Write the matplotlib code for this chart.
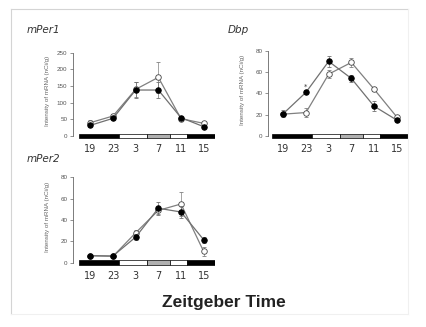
import numpy as np
import matplotlib.pyplot as plt
from matplotlib.lines import Line2D

# Sampling times (plotted as continuous hours), labels shown as ZT
zt = [19, 23, 27, 31, 35, 39]
zt_labels = ['19', '23', '3', '7', '11', '15']

# mPer1
per1_open = [40, 60, 140, 176, 52, 38]
per1_open_err = [9, 5, 23, 47, 5, 5]
per1_fill = [32, 53, 138, 138, 55, 28]
per1_fill_err = [5, 5, 23, 25, 5, 5]

# Dbp
dbp_open = [20.5, 22, 58, 69, 44, 18]
dbp_open_err = [2, 4, 4, 4, 2, 2]
dbp_fill = [21, 41, 70, 54, 28, 15]
dbp_fill_err = [3, 2, 5, 3, 5, 2]

# mPer2
per2_open = [6.5, 6, 28, 49, 55, 10.5]
per2_open_err = [1, 1, 3, 3, 11, 4]
per2_fill = [6.6, 6.3, 24, 51, 47.5, 21.5]
per2_fill_err = [1, 1, 3, 6, 6, 3]

# light/dark bar segments (start, end, colour)
segments = [(17, 24, 'black'), (24, 29, 'white'), (29, 33, '#b0b0b0'),
            (33, 36, 'white'), (36, 41, 'black')]

W, H = 427, 327
fig = plt.figure(figsize=(W / 100, H / 100), dpi=100)
fig.patch.set_facecolor('white')

# faint frame around the figure content
fig.add_artist(Line2D([11 / W, 408 / W], [1 - 9 / H, 1 - 9 / H], color='#d4d4d4', lw=0.8))
fig.add_artist(Line2D([11 / W, 11 / W], [1 - 9 / H, 1 - 314 / H], color='#d4d4d4', lw=0.8))
fig.add_artist(Line2D([408 / W, 408 / W], [1 - 9 / H, 1 - 314 / H], color='#f0f0f0', lw=0.8))
fig.add_artist(Line2D([11 / W, 408 / W], [1 - 314 / H, 1 - 314 / H], color='#f0f0f0', lw=0.8))


def panel(left_px, right_px, zero_px, top_val, top_px, spine_px, ticks,
          fill, fill_err, opn, opn_err, title, title_xy, ylabel_x):
    scale = (zero_px - top_px) / top_val
    lo = 4.5 / scale
    hi = top_val + 4 / scale
    bottom_px = zero_px + lo * scale
    height_px = (hi + lo) * scale
    ax = fig.add_axes([left_px / W, 1 - bottom_px / H,
                       (right_px - left_px) / W, height_px / H])
    ax.set_xlim(17, 41)
    ax.set_ylim(-lo, hi)
    for s in ['top', 'right', 'bottom']:
        ax.spines[s].set_visible(False)
    ax.spines['left'].set_position(('outward', spine_px * 0.72))
    ax.spines['left'].set_bounds(0, top_val)
    ax.spines['left'].set_color('#666666')
    ax.spines['left'].set_linewidth(0.6)
    ax.set_yticks(ticks)
    ax.tick_params(axis='y', labelsize=4.5, length=2, width=0.5,
                   color='#666666', labelcolor='#555555', pad=2)
    for t in ax.get_yticklabels():
        t.set_family('Liberation Sans')
    ax.set_xticks(zt, zt_labels)
    ax.tick_params(axis='x', length=0, labelsize=7, labelcolor='#333333', pad=2.5)

    # light/dark bar
    hh = 2.4 / scale
    for a, b, c in segments:
        ax.add_patch(plt.Rectangle((a, -hh), b - a, 2 * hh, facecolor=c,
                                   edgecolor='black', lw=0.5, zorder=1))

    ax.errorbar(zt, opn, yerr=opn_err, color='#808080', lw=0.9, elinewidth=0.5,
                capsize=1.2, capthick=0.5, marker='o', ms=4, mfc='white',
                mec='#444444', mew=0.6, zorder=3)
    ax.errorbar(zt, fill, yerr=fill_err, color='#707070', lw=0.9, elinewidth=0.5,
                capsize=1.2, capthick=0.5, marker='o', ms=4, mfc='black',
                mec='black', mew=0.6, zorder=4)

    fig.text(ylabel_x / W, 1 - ((zero_px + top_px) / 2 - 3) / H,
             'Intensity of mRNA (nCi/g)', rotation=90, fontsize=4.5,
             family='Liberation Sans', color='#666666', ha='center', va='center')
    fig.text(title_xy[0] / W, 1 - title_xy[1] / H, title, fontsize=7.5,
             style='italic', color='#333333', ha='left', va='center')
    return ax


panel(79, 215, 136, 250, 52.7, 6, [0, 50, 100, 150, 200, 250],
      per1_fill, per1_fill_err, per1_open, per1_open_err, 'mPer1', (27, 30), 48)
ax_dbp = panel(272, 408, 136, 80, 50.7, 4, [0, 20, 40, 60, 80],
               dbp_fill, dbp_fill_err, dbp_open, dbp_open_err, 'Dbp', (228, 30), 243)
ax_dbp.text(23, 46, '*', fontsize=5, ha='center', va='center', color='#333333')
panel(79, 215, 262.7, 80, 177.3, 6, [0, 20, 40, 60, 80],
      per2_fill, per2_fill_err, per2_open, per2_open_err, 'mPer2', (27, 159), 48)

fig.text(224 / W, 1 - 302 / H, 'Zeitgeber Time', fontsize=12.5, fontweight='bold',
         family='Liberation Sans', color='#222222', ha='center', va='center')

fig.savefig('out.png', dpi=100)
